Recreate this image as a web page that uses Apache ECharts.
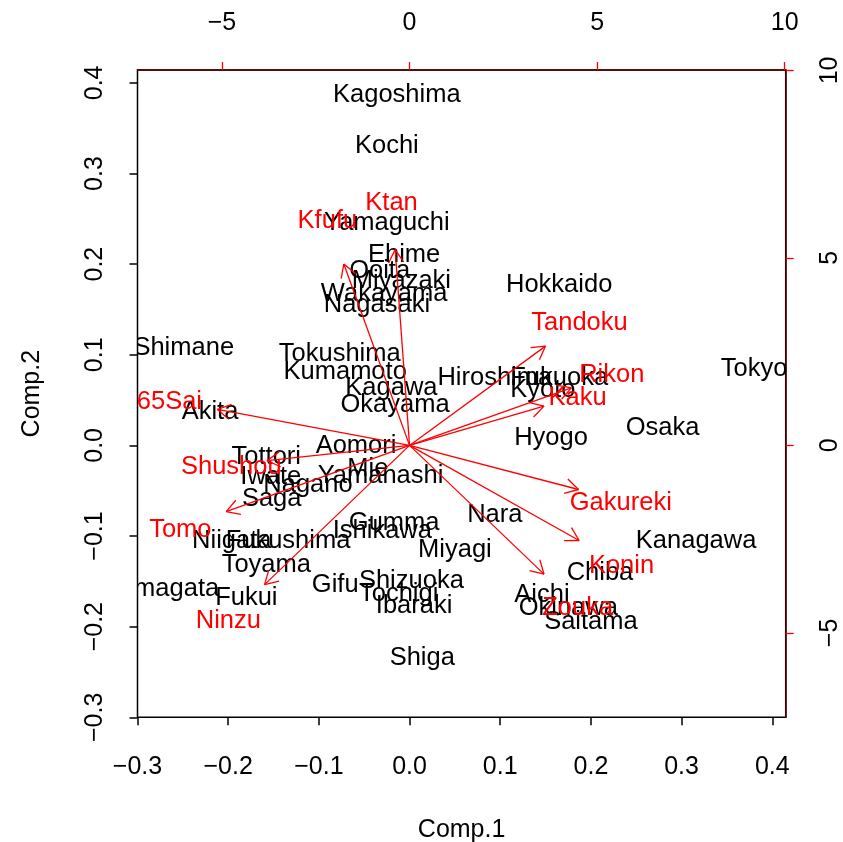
<!DOCTYPE html>
<html>
<head>
<meta charset="utf-8">
<script src="https://cdn.jsdelivr.net/npm/echarts@6/dist/echarts.min.js"></script>
<style>
  html, body { margin: 0; padding: 0; background: #fff; }
  #chart { width: 843px; height: 842px; }
</style>
</head>
<body>
<div id="chart"></div>
<script>
// prefecture scores (Comp.1, Comp.2)
const prefNames = ['Kagoshima', 'Kochi', 'Yamaguchi', 'Ehime', 'Ooita', 'Miyazaki', 'Wakayama', 'Nagasaki',
  'Hokkaido', 'Shimane', 'Tokushima', 'Kumamoto', 'Kagawa', 'Okayama', 'Hiroshima', 'Fukuoka', 'Kyoto',
  'Tokyo', 'Akita', 'Osaka', 'Hyogo', 'Aomori', 'Tottori', 'Mie', 'Yamanashi', 'Iwate', 'Nagano', 'Saga',
  'Gumma', 'Ishikawa', 'Nara', 'Miyagi', 'Niigata', 'Fukushima', 'Kanagawa', 'Toyama', 'Chiba', 'Yamagata',
  'Gifu', 'Shizuoka', 'Tochigi', 'Fukui', 'Ibaraki', 'Aichi', 'Okinawa', 'Saitama', 'Shiga'];
const comp1 = [-0.014, -0.025, -0.025, -0.006, -0.033, -0.009, -0.028, -0.036,
  0.165, -0.249, -0.077, -0.071, -0.020, -0.016, 0.094, 0.165, 0.147,
  0.380, -0.220, 0.279, 0.156, -0.059, -0.158, -0.046, -0.032, -0.153, -0.112, -0.152,
  -0.017, -0.030, 0.094, 0.050, -0.196, -0.134, 0.316, -0.158, 0.210, -0.273,
  -0.082, 0.002, -0.012, -0.180, 0.005, 0.146, 0.175, 0.200, 0.014];
const comp2 = [0.389, 0.333, 0.248, 0.212, 0.195, 0.184, 0.169, 0.157,
  0.179, 0.110, 0.103, 0.083, 0.066, 0.047, 0.077, 0.077, 0.063,
  0.086, 0.039, 0.021, 0.010, 0.002, -0.011, -0.024, -0.031, -0.033, -0.042, -0.057,
  -0.083, -0.092, -0.075, -0.113, -0.103, -0.103, -0.103, -0.130, -0.138, -0.156,
  -0.152, -0.147, -0.162, -0.166, -0.175, -0.163, -0.177, -0.193, -0.232];

// variable loadings (label positions, top/right scale); arrows drawn to 0.8 of these
const varNames = ['Ktan', 'Kfufu', 'Tandoku', 'Rikon', 'Kaku', 'Gakureki', 'Konin', 'Zouka',
  'Ninzu', 'Tomo', 'Shushou', '65Sai'];
const loadX = [-0.48, -2.19, 4.53, 5.39, 4.48, 5.63, 5.65, 4.48, -4.83, -6.11, -4.75, -6.40];
const loadY = [6.53, 6.05, 3.31, 1.92, 1.31, -1.47, -3.17, -4.29, -4.64, -2.21, -0.51, 1.20];

const ticks1 = [-0.3, -0.2, -0.1, 0.0, 0.1, 0.2, 0.3, 0.4];
const ticks2 = [-5, 0, 5, 10];

const scale2 = 24.17;
const xRange = [-0.3, 0.4148];
const yRange = [-0.3, 0.4142];

const FONT = '"Liberation Sans", Arial, Helvetica, sans-serif';
const minus = v => (v < 0 ? '\u2212' : '') + Math.abs(v);
const fmt1 = v => (v < 0 ? '\u2212' : '') + Math.abs(v).toFixed(1);

const chart = echarts.init(document.getElementById('chart'));

function textItem(api, color) {
  const p = api.coord([api.value(0), api.value(1)]);
  return {
    type: 'text',
    x: p[0], y: p[1] + 2,
    style: {
      text: api.value(2),
      fill: color,
      font: '25.5px ' + FONT,
      align: 'center',
      verticalAlign: 'middle'
    }
  };
}

function arrowItem(api) {
  const o = api.coord([0, 0]);
  const t = api.coord([api.value(0) * 0.8, api.value(1) * 0.8]);
  const ang = Math.atan2(t[1] - o[1], t[0] - o[0]);
  const len = 15, spread = Math.PI / 6;
  const stroke = { stroke: '#ff0000', lineWidth: 1.3 };
  const arm = a => ({
    type: 'line',
    shape: { x1: t[0], y1: t[1], x2: t[0] - len * Math.cos(a), y2: t[1] - len * Math.sin(a) },
    style: stroke
  });
  return {
    type: 'group',
    children: [
      { type: 'line', shape: { x1: o[0], y1: o[1], x2: t[0], y2: t[1] }, style: stroke },
      arm(ang + spread),
      arm(ang - spread)
    ]
  };
}

const axisText = { color: '#000', fontSize: 25, fontFamily: FONT };

chart.setOption({
  animation: false,
  backgroundColor: '#fff',
  grid: {
    left: 137.5, right: 57.3, top: 70, bottom: 124.7,
    outerBoundsMode: 'none', containLabel: false,
    show: true, borderColor: '#000', borderWidth: 1.5, backgroundColor: 'transparent'
  },
  xAxis: [
    {
      type: 'value', position: 'bottom', min: xRange[0], max: xRange[1],
      axisLine: { show: false, onZero: false },
      splitLine: { show: false },
      axisTick: { show: true, length: 8, customValues: ticks1, lineStyle: { color: '#000', width: 1.5 } },
      axisLabel: Object.assign({ customValues: ticks1, formatter: fmt1, margin: 37 }, axisText),
      name: 'Comp.1', nameLocation: 'middle', nameGap: 100,
      nameTextStyle: axisText
    },
    {
      type: 'value', position: 'top', min: xRange[0] * scale2, max: xRange[1] * scale2,
      axisLine: { show: true, onZero: false, lineStyle: { color: '#5a0000', width: 1.5 } },
      splitLine: { show: false },
      axisTick: { show: true, length: 8, customValues: ticks2, lineStyle: { color: '#ff0000', width: 1.3 } },
      axisLabel: Object.assign({ customValues: ticks2, formatter: minus, margin: 34 }, axisText)
    }
  ],
  yAxis: [
    {
      type: 'value', position: 'left', min: yRange[0], max: yRange[1],
      axisLine: { show: false, onZero: false },
      splitLine: { show: false },
      axisTick: { show: true, length: 8, customValues: ticks1, lineStyle: { color: '#000', width: 1.5 } },
      axisLabel: Object.assign({ customValues: ticks1, formatter: fmt1, margin: 30, rotate: 90 }, axisText),
      name: 'Comp.2', nameLocation: 'middle', nameGap: 93, nameRotate: 90,
      nameTextStyle: axisText
    },
    {
      type: 'value', position: 'right', min: yRange[0] * scale2, max: yRange[1] * scale2,
      axisLine: { show: true, onZero: false, lineStyle: { color: '#5a0000', width: 1.5 } },
      splitLine: { show: false },
      axisTick: { show: true, length: 8, customValues: ticks2, lineStyle: { color: '#ff0000', width: 1.3 } },
      axisLabel: Object.assign({ customValues: ticks2, formatter: minus, margin: 32, rotate: 90 }, axisText)
    }
  ],
  series: [
    {
      type: 'custom', name: 'scores', xAxisIndex: 0, yAxisIndex: 0, clip: true, z: 3,
      data: prefNames.map((n, i) => [comp1[i], comp2[i], n]),
      renderItem: (params, api) => textItem(api, '#000')
    },
    {
      type: 'custom', name: 'arrows', xAxisIndex: 1, yAxisIndex: 1, clip: true, z: 4,
      data: varNames.map((n, i) => [loadX[i], loadY[i], n]),
      renderItem: (params, api) => arrowItem(api)
    },
    {
      type: 'custom', name: 'loadings', xAxisIndex: 1, yAxisIndex: 1, clip: true, z: 5,
      data: varNames.map((n, i) => [loadX[i], loadY[i], n]),
      renderItem: (params, api) => textItem(api, '#ff0000')
    }
  ]
});
</script>
</body>
</html>
